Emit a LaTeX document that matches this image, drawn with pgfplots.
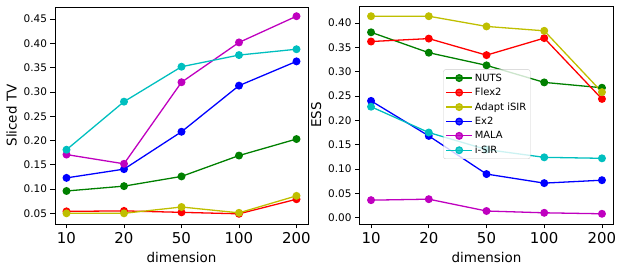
\documentclass[border=0pt]{standalone}
\usepackage{pgfplots}
\pgfplotsset{compat=1.18}
\usepackage{fontspec}
\setmainfont{DejaVu Sans}
\definecolor{mg}{rgb}{0,0.5,0}
\definecolor{mr}{rgb}{1,0,0}
\definecolor{my}{rgb}{0.75,0.75,0}
\definecolor{mb}{rgb}{0,0,1}
\definecolor{mm}{rgb}{0.75,0,0.75}
\definecolor{mc}{rgb}{0,0.75,0.75}
\pgfplotsset{
  myaxis/.style={
    scale only axis, width=253bp, height=217bp,
    xmin=-0.2, xmax=4.2, xtick={0,1,2,3,4},
    xticklabels={10,20,50,100,200},
    tick align=outside, tick pos=left,
    major tick length=4.5bp,
    every tick/.style={black, line width=0.6pt},
    axis line style={line width=0.6pt},
    x tick label style={font=\fontsize{15}{15}\selectfont},
    y tick label style={font=\fontsize{10.5}{10.5}\selectfont},
    /pgf/number format/assume math mode=true,
    yticklabel style={/pgf/number format/fixed, /pgf/number format/fixed zerofill, /pgf/number format/precision=2},
    scaled y ticks=false,
    label style={font=\fontsize{13.5}{13.5}\selectfont},
    xlabel={dimension},
    every axis plot/.append style={line width=1.3pt, mark=*, mark size=3.3bp},
    xlabel style={yshift=-2bp},
  }
}
\begin{document}
\begin{tikzpicture}
\path[use as bounding box] (0,0) rectangle (623bp,271bp);
\begin{axis}[myaxis, at={(55bp,47bp)}, anchor=south west,
  ymin=0.028, ymax=0.475, ytick={0.05,0.1,0.15,0.2,0.25,0.3,0.35,0.4,0.45},
  ylabel={Sliced TV}]
\addplot[mg] coordinates {(0,0.096) (1,0.106) (2,0.126) (3,0.169) (4,0.203)};
\addplot[mr] coordinates {(0,0.054) (1,0.055) (2,0.052) (3,0.049) (4,0.079)};
\addplot[my] coordinates {(0,0.050) (1,0.050) (2,0.063) (3,0.051) (4,0.086)};
\addplot[mb] coordinates {(0,0.123) (1,0.141) (2,0.218) (3,0.313) (4,0.363)};
\addplot[mm] coordinates {(0,0.171) (1,0.152) (2,0.320) (3,0.402) (4,0.456)};
\addplot[mc] coordinates {(0,0.181) (1,0.280) (2,0.352) (3,0.376) (4,0.388)};
\end{axis}
\begin{axis}[myaxis, at={(359.5bp,47bp)}, anchor=south west, width=254bp, height=218bp,
  ymin=-0.013, ymax=0.435, ytick={0,0.05,0.1,0.15,0.2,0.25,0.3,0.35,0.4},
  ylabel={ESS},
  legend image code/.code={\draw[mark repeat=2, mark phase=2] plot coordinates {(0bp,0bp) (13bp,0bp) (26bp,0bp)};},
  legend style={at={(0.33,0.709)}, anchor=north west, font=\fontsize{10}{12}\selectfont,
    fill=white, fill opacity=0.8, text opacity=1, draw=black!20, rounded corners=2bp,
    row sep=1.5bp, inner sep=2bp},
  legend cell align=left]
\addplot[mg] coordinates {(0,0.381) (1,0.339) (2,0.313) (3,0.278) (4,0.267)};
\addlegendentry{NUTS}
\addplot[mr] coordinates {(0,0.362) (1,0.368) (2,0.334) (3,0.369) (4,0.244)};
\addlegendentry{Flex2}
\addplot[my] coordinates {(0,0.414) (1,0.414) (2,0.393) (3,0.384) (4,0.258)};
\addlegendentry{Adapt iSIR}
\addplot[mb] coordinates {(0,0.240) (1,0.168) (2,0.0896) (3,0.071) (4,0.077)};
\addlegendentry{Ex2}
\addplot[mm] coordinates {(0,0.036) (1,0.038) (2,0.0137) (3,0.010) (4,0.008)};
\addlegendentry{MALA}
\addplot[mc] coordinates {(0,0.228) (1,0.175) (2,0.140) (3,0.124) (4,0.122)};
\addlegendentry{i-SIR}
\end{axis}
\end{tikzpicture}
\end{document}
